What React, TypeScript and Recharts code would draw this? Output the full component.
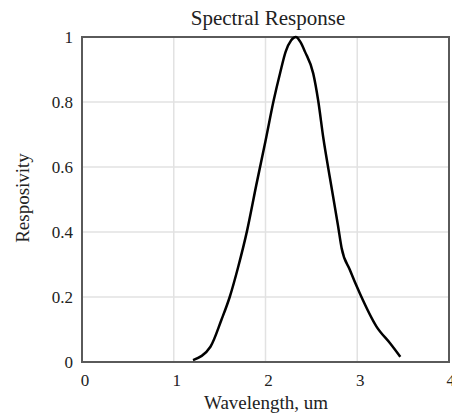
import { CartesianGrid, Line, LineChart, ReferenceArea, XAxis, YAxis } from "recharts";

const wavelength = [
  1.21, 1.4, 1.52, 1.61, 1.7, 1.8, 1.9, 2.0, 2.09, 2.16, 2.22, 2.28, 2.33, 2.38, 2.43, 2.52, 2.575, 2.63, 2.7,
  2.79, 2.83, 2.92, 3.03, 3.21, 3.36, 3.47,
];
const responsivity = [
  0.006, 0.047, 0.13, 0.2, 0.29, 0.405, 0.545, 0.68, 0.806, 0.89, 0.955, 0.99, 1.0, 0.985, 0.955, 0.888, 0.803,
  0.69, 0.57, 0.42, 0.35, 0.283, 0.21, 0.109, 0.057, 0.016,
];
const xTicks = [0, 1, 2, 3, 4];
const yTicks = [0, 0.2, 0.4, 0.6, 0.8, 1];

const data = wavelength.map((w, i) => ({ w, r: responsivity[i] }));

const font = "'Liberation Serif', 'Times New Roman', serif";

export default function App() {
  return (
    <div style={{ position: "absolute", left: 0, top: 0, width: 452, height: 415, background: "#fff" }}>
      <LineChart width={452} height={415} data={data} margin={{ top: 37, right: 3, left: 0, bottom: 0 }}>
        <CartesianGrid stroke="#e2e2e2" strokeWidth={1.5} />
        <XAxis
          dataKey="w"
          type="number"
          domain={[0, 4]}
          ticks={xTicks}
          height={53}
          axisLine={false}
          tickLine={false}
          tickSize={10}
          tick={{ fill: "#222", fontSize: 17, fontFamily: font, dx: 3 }}
        />
        <YAxis
          type="number"
          domain={[0, 1]}
          ticks={yTicks}
          width={82}
          axisLine={false}
          tickLine={false}
          tickSize={7}
          tick={{ fill: "#222", fontSize: 17, fontFamily: font }}
        />
        <ReferenceArea x1={0} x2={4} y1={0} y2={1} fill="none" stroke="#5a5a5a" strokeWidth={2} />
        <Line
          type="monotone"
          dataKey="r"
          stroke="#000"
          strokeWidth={2.5}
          dot={false}
          isAnimationActive={false}
        />
        <text x={268} y={25} textAnchor="middle" fill="#222" fontSize={21} fontFamily={font}>
          Spectral Response
        </text>
        <text x={266} y={409} textAnchor="middle" fill="#222" fontSize={19} fontFamily={font}>
          Wavelength, um
        </text>
        <text
          x={29}
          y={198}
          textAnchor="middle"
          fill="#222"
          fontSize={19}
          fontFamily={font}
          transform="rotate(-90 29 198)"
        >
          Resposivity
        </text>
      </LineChart>
    </div>
  );
}
